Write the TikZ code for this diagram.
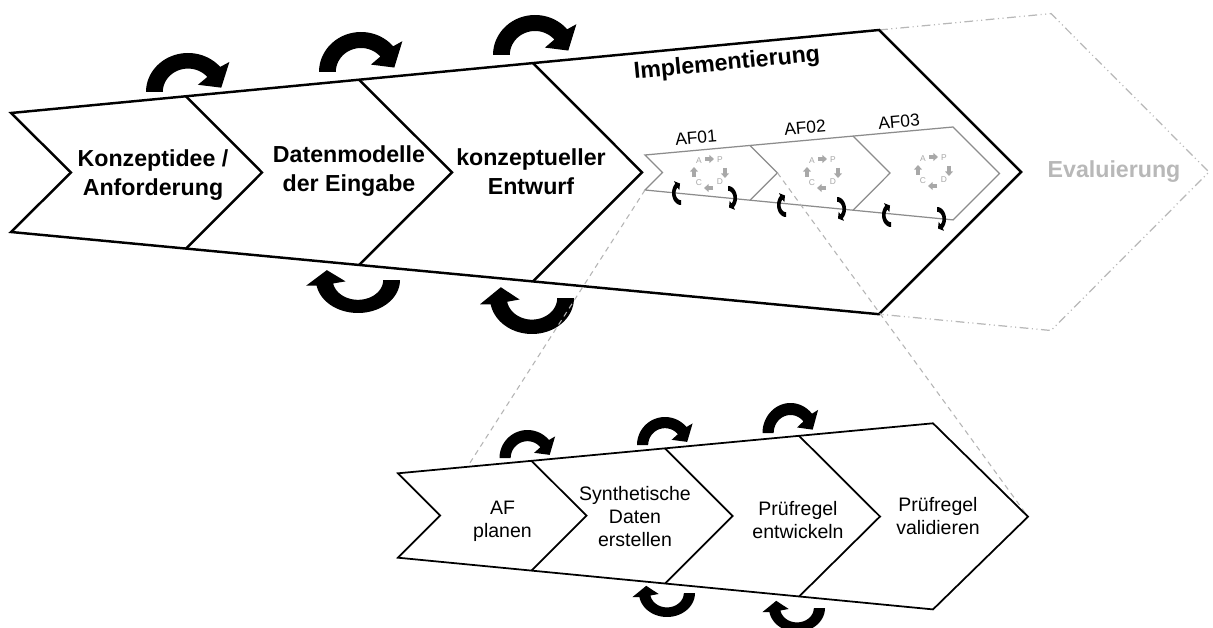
\documentclass[tikz,border=0pt]{standalone}
\usepackage{fontspec}
\setmainfont{Liberation Sans}
\usetikzlibrary{arrows.meta,calc}

\definecolor{afgray}{HTML}{8C8C8C}
\definecolor{zoomgray}{HTML}{B4B4B4}
\definecolor{evalgray}{HTML}{B8B8B8}
\definecolor{pdcagray}{HTML}{A8A8A8}

% thick curved "iteration" arrow: #1 placement, #2 angle where the head starts
\newcommand\cycarrow[2]{%
  \fill[#1] plot[domain=180:#2, samples=40] ({cos(\x)},{sin(\x)})
    -- ({1.25*cos(#2-2)},{1.25*sin(#2-2)})
    -- ({0.8*cos(#2-32)},{0.8*sin(#2-32)})
    -- ({0.3*cos(#2-2)},{0.3*sin(#2-2)})
    -- plot[domain=#2:180, samples=40] ({0.6*cos(\x)},{0.6*sin(\x)}) -- cycle;}

% small PDCA cycle icon: #1 name prefix, #2 centre
\newcommand\pdcaicon[2]{%
  \begin{scope}[shift={#2}]
    \draw[pdcaarr] (-4,-13) -- (5,-13);
    \draw[pdcaarr] (16,-4) -- (16,6);
    \draw[pdcaarr] (4,16) -- (-5,16);
    \draw[pdcaarr] (-15,5) -- (-15,-5);
    \node[pdcatxt] (#1-a) at (-10,-11) {A};
    \node[pdcatxt] (#1-p) at (11,-12) {P};
    \node[pdcatxt] (#1-d) at (11,10) {D};
    \node[pdcatxt] (#1-c) at (-10,11) {C};
  \end{scope}}

\tikzset{
  chev/.style={line width=1.4pt, line join=miter},
  lchev/.style={line width=1pt, line join=miter},
  afline/.style={draw=afgray, line width=0.7pt, line join=miter},
  zoomline/.style={draw=zoomgray, line width=0.6pt, dash pattern=on 3pt off 2.5pt},
  evalline/.style={draw=evalgray, line width=0.7pt,
    dash pattern=on 5pt off 2pt on 0.6pt off 2pt on 0.6pt off 2pt},
  bigtxt/.style={inner sep=0pt, align=center,
    font=\fontsize{13.2}{16.7}\selectfont\bfseries},
  smtxt/.style={inner sep=0pt, align=center,
    font=\fontsize{11.1}{13.3}\selectfont},
  aftxt/.style={inner sep=0pt, font=\fontsize{9.9}{12}\selectfont},
  pdcatxt/.style={inner sep=0pt, text=pdcagray, font=\fontsize{4.8}{5}\selectfont},
  pdcaarr/.style={draw=pdcagray, line width=1.8pt, -{Triangle[length=2.6pt,width=4.4pt]}},
}

\begin{document}
\begin{tikzpicture}[x=0.02cm, y=-0.02cm]
\useasboundingbox (0,0) rectangle (1213,628);
\fill[white] (0,0) rectangle (1213,628);

% ---------- main process chain ----------
\coordinate (u0t) at (11,113);    \coordinate (u0n) at (71,172.5);  \coordinate (u0b) at (11,232);
\coordinate (u1t) at (186,96.3);  \coordinate (u1p) at (262,172.5); \coordinate (u1b) at (186,248.6);
\coordinate (u2t) at (359,79.7);  \coordinate (u2p) at (452,172.4); \coordinate (u2b) at (359,265);
\coordinate (u3t) at (533,63.1);  \coordinate (u3p) at (642,172.3); \coordinate (u3b) at (533,281.4);
\coordinate (u4t) at (879,30);    \coordinate (u4p) at (1021,172);  \coordinate (u4b) at (879,314.2);
\coordinate (u5t) at (1051,13.6); \coordinate (u5p) at (1209,172);  \coordinate (u5b) at (1051,330.5);

\draw[evalline] (u4t) -- (u5t) -- (u5p) -- (u5b) -- (u4b);
\draw[chev] (u0t) -- (u4t) -- (u4p) -- (u4b) -- (u0b) -- (u0n) -- cycle;
\draw[chev] (u1t) -- (u1p) -- (u1b);
\draw[chev] (u2t) -- (u2p) -- (u2b);
\draw[chev] (u3t) -- (u3p) -- (u3b);

\node[bigtxt] (k1) at (153,175) {Konzeptidee /\\Anforderung};
\node[bigtxt] (k2) at (349,171) {Datenmodelle\\der Eingabe};
\node[bigtxt] (k3) at (531,172) {konzeptueller\\Entwurf};
\node[bigtxt, rotate=5.5] (k4) at (727,64) {Implementierung};
\node[bigtxt, text=evalgray] (k5) at (1114,172) {Evaluierung};

% iteration arrows of the main chain
\cycarrow{shift={(188,92)}, xscale=42, yscale=-39}{40}
\cycarrow{shift={(361,72)}, xscale=42, yscale=-40}{40}
\cycarrow{shift={(535,55)}, xscale=42, yscale=-40}{40}
\cycarrow{shift={(358,280)}, xscale=-42, yscale=33}{10}
\cycarrow{shift={(532,298)}, xscale=-42, yscale=36}{10}

% ---------- work packages inside the implementation step ----------
\coordinate (a0t) at (645,155);   \coordinate (a0n) at (662.5,172.5); \coordinate (a0b) at (645,190);
\coordinate (a1t) at (750,145.4); \coordinate (a1p) at (777.4,172.8); \coordinate (a1b) at (750,200.2);
\coordinate (a2t) at (853,136);   \coordinate (a2p) at (890,173.1);   \coordinate (a2b) at (853,210.2);
\coordinate (a3t) at (953,127);   \coordinate (a3p) at (999.5,173.4); \coordinate (a3b) at (953,219.9);

\draw[afline] (a0t) -- (a3t) -- (a3p) -- (a3b) -- (a0b) -- (a0n) -- cycle;
\draw[afline] (a1t) -- (a1p) -- (a1b);
\draw[afline] (a2t) -- (a2p) -- (a2b);

\node[aftxt, rotate=5] (af1) at (696,138) {AF01};
\node[aftxt, rotate=5] (af2) at (805,128) {AF02};
\node[aftxt, rotate=5] (af3) at (899,122) {AF03};

\pdcaicon{p1}{(709,172)}
\pdcaicon{p2}{(822,172)}
\pdcaicon{p3}{(933,170)}

\cycarrow{shift={(681,193)}, rotate=90, xscale=12, yscale=-9}{40}
\cycarrow{shift={(728,198)}, rotate=-90, xscale=12, yscale=-9}{40}
\cycarrow{shift={(786,205)}, rotate=90, xscale=12, yscale=-9}{40}
\cycarrow{shift={(837,209)}, rotate=-90, xscale=12, yscale=-9}{40}
\cycarrow{shift={(891,215)}, rotate=90, xscale=12, yscale=-9}{40}
\cycarrow{shift={(937,219)}, rotate=-90, xscale=12, yscale=-9}{40}

% ---------- detailed chain of one work package ----------
\coordinate (l0t) at (398,473.3); \coordinate (l0n) at (440.2,515.5); \coordinate (l0b) at (398,557.7);
\coordinate (l1t) at (531.5,460.8); \coordinate (l1p) at (586.5,515.7); \coordinate (l1b) at (531.5,570.7);
\coordinate (l2t) at (665,448.3); \coordinate (l2p) at (732.6,516);   \coordinate (l2b) at (665,583.6);
\coordinate (l3t) at (799,435.8); \coordinate (l3p) at (880,516.5);   \coordinate (l3b) at (799,596.6);
\coordinate (l4t) at (933,423.3); \coordinate (l4p) at (1028,516.7);  \coordinate (l4b) at (933,609.4);
\coordinate (lz) at ($(l0t)!0.52!(l1t)$);

\draw[zoomline] (a0b) -- (lz);
\draw[zoomline] (a1p) -- (l4p);

\draw[lchev] (l0t) -- (l4t) -- (l4p) -- (l4b) -- (l0b) -- (l0n) -- cycle;
\draw[lchev] (l1t) -- (l1p) -- (l1b);
\draw[lchev] (l2t) -- (l2p) -- (l2b);
\draw[lchev] (l3t) -- (l3p) -- (l3b);

\node[smtxt] (s1) at (502.5,521) {AF\\planen};
\node[smtxt] (s2) at (635,516.5) {Synthetische\\Daten\\erstellen};
\node[smtxt] (s3) at (798,520) {Prüfregel\\entwickeln};
\node[smtxt] (s4) at (938,516) {Prüfregel\\validieren};

\cycarrow{shift={(527.5,458)}, xscale=28, yscale=-28}{40}
\cycarrow{shift={(665,445)}, xscale=28, yscale=-28}{40}
\cycarrow{shift={(790.5,433)}, xscale=28, yscale=-30}{40}
\cycarrow{shift={(667,593)}, xscale=-28, yscale=24}{10}
\cycarrow{shift={(797,608)}, xscale=-28, yscale=24}{10}
\end{tikzpicture}
\end{document}
